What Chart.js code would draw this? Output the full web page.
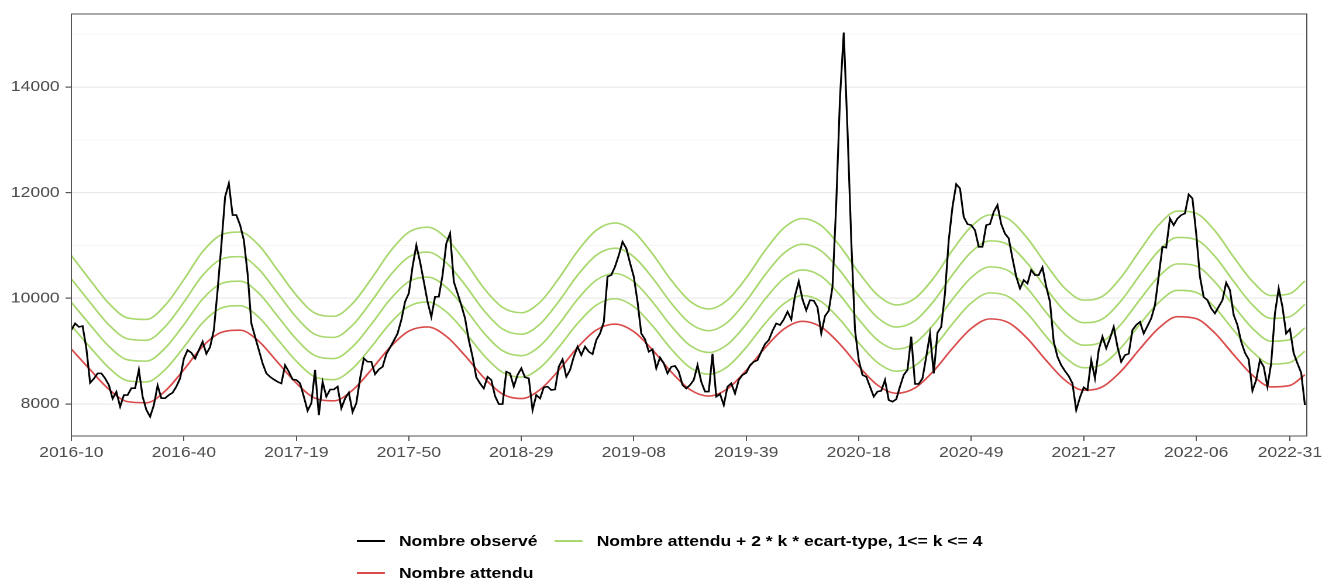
<!DOCTYPE html>
<html lang="fr">
<head>
<meta charset="utf-8">
<title>Nombre observé / attendu</title>
<script src="https://cdn.jsdelivr.net/npm/chart.js@4.4.1/dist/chart.umd.min.js"></script>
<style>
    html, body { margin: 0; padding: 0; background: #fff; overflow: hidden; }
    /* the reference is stretched horizontally, so the whole page is drawn narrower and scaled */
    #wrap {
        position: relative;
        width: 1130px;
        height: 581px;
        transform: scaleX(1.16991);
        transform-origin: 0 0;
    }
    #legend {
        position: absolute;
        left: 0; top: 0;
        font-family: "Liberation Sans", Arial, sans-serif;
        font-weight: bold;
        font-size: 15px;
        color: #000;
    }
    .item { position: absolute; height: 18px; line-height: 18px; white-space: nowrap; }
    .item .key { position: absolute; top: 8px; width: 24px; height: 2px; }
    .item .txt { position: absolute; left: 36px; top: 0; }
</style>
</head>
<body>
<div id="wrap">
    <canvas id="lineChart"></canvas>
    <div id="legend"></div>
</div>
<script>
/* ==============================
   DATA
============================== */

// week index 0 = 2016-10
const xTickIdx = [0, 30, 60, 90, 120, 150, 180, 210, 240, 270, 300, 325];
const xTickLabels = ["2016-10", "2016-40", "2017-19", "2017-50", "2018-29", "2019-08",
                     "2019-39", "2020-18", "2020-49", "2021-27", "2022-06", "2022-31"];

const nombreObserve = [
    9400, 9525, 9460, 9475, 9050, 8400, 8480, 8580, 8580, 8485,
    8360, 8100, 8230, 7950, 8170, 8170, 8300, 8300, 8650, 8140,
    7890, 7760, 7980, 8350, 8110, 8110, 8170, 8215, 8330, 8485,
    8860, 9020, 8970, 8860, 9020, 9180, 8950, 9080, 9400, 10155,
    11005, 11920, 12175, 11575, 11575, 11385, 11100, 10470, 9525, 9270,
    9020, 8770, 8580, 8515, 8465, 8420, 8390, 8735, 8610, 8465,
    8455, 8390, 8140, 7875, 8015, 8645, 7790, 8420, 8140, 8275,
    8275, 8330, 7920, 8105, 8215, 7850, 8015, 8485, 8865, 8800,
    8800, 8565, 8655, 8705, 8945, 9070, 9200, 9335, 9590, 9935,
    10095, 10600, 11005, 10690, 10315, 9935, 9650, 10030, 10030, 10440,
    11040, 11230, 10315, 10095, 9870, 9620, 9210, 8895, 8505, 8390,
    8295, 8515, 8455, 8150, 8000, 8000, 8610, 8580, 8330, 8550,
    8675, 8505, 8485, 7885, 8170, 8105, 8315, 8330, 8265, 8275,
    8705, 8845, 8515, 8645, 8895, 9085, 8925, 9085, 8990, 8945,
    9210, 9335, 9550, 10410, 10440, 10600, 10815, 11070, 10945, 10670,
    10410, 9935, 9335, 9225, 8990, 9035, 8675, 8880, 8770, 8580,
    8705, 8720, 8610, 8360, 8295, 8360, 8455, 8735, 8420, 8235,
    8235, 8950, 8140, 8190, 7980, 8330, 8390, 8200, 8455, 8550,
    8590, 8735, 8800, 8830, 8990, 9135, 9210, 9385, 9525, 9495,
    9600, 9746, 9600, 10050, 10320, 9980, 9775, 9965, 9955, 9830,
    9335, 9665, 9765, 10220, 11795, 13800, 15030, 13180, 11100, 9400,
    8830, 8550, 8515, 8330, 8140, 8235, 8250, 8455, 8075, 8045,
    8090, 8330, 8550, 8645, 9275, 8380, 8380, 8485, 8895, 9325,
    8580, 9350, 9460, 10095, 11100, 11730, 12160, 12080, 11540, 11405,
    11385, 11290, 10975, 10975, 11385, 11405, 11635, 11765, 11405, 11225,
    11135, 10755, 10410, 10185, 10345, 10280, 10535, 10440, 10440, 10585,
    10220, 9935, 9180, 8895, 8735, 8625, 8530, 8390, 7885, 8125,
    8315, 8265, 8830, 8485, 9020, 9275, 9055, 9240, 9460, 9085,
    8800, 8925, 8950, 9400, 9495, 9555, 9335, 9475, 9620, 9870,
    10420, 10975, 10960, 11510, 11385, 11510, 11575, 11605, 11965, 11890,
    11225, 10410, 10025, 9965, 9810, 9715, 9840, 9965, 10295, 10155,
    9685, 9495, 9180, 8970, 8845, 8250, 8455, 8830, 8705, 8330,
    8770, 9715, 10185, 9840, 9335, 9420, 8960, 8770, 8590, 7980
];

// expected values, read every 5 weeks
const attenduIdx = [
    0, 5, 10, 15, 20, 25, 30, 35, 40, 45, 50, 55, 60, 65, 70, 75, 80, 85, 90, 95,
    100, 105, 110, 115, 120, 125, 130, 135, 140, 145, 150, 155, 160, 165, 170, 175,
    180, 185, 190, 195, 200, 205, 210, 215, 220, 225, 230, 235, 240, 245, 250, 255,
    260, 265, 270, 275, 280, 285, 290, 295, 300, 305, 310, 315, 320, 325, 329
];
const nombreAttendu = [
    9040, 8650, 8280, 8045, 8024, 8245, 8650, 9090, 9355, 9397,
    9187, 8790, 8395, 8111, 8061, 8263, 8650, 9075, 9380, 9459,
    9281, 8915, 8499, 8189, 8103, 8272, 8640, 9069, 9400, 9514,
    9371, 9024, 8606, 8273, 8151, 8288, 8636, 9063, 9418, 9566,
    9456, 9132, 8714, 8359, 8203, 8304, 8627, 9054, 9430, 9611,
    9538, 9238, 8824, 8452, 8262, 8326, 8625, 9045, 9435, 9652,
    9615, 9341, 8933, 8545, 8324, 8352, 8554
];
const ecartType = [
    221, 212, 203, 198, 197, 203, 213, 224, 231, 232,
    227, 218, 208, 201, 200, 205, 215, 226, 234, 236,
    232, 223, 212, 205, 203, 207, 217, 228, 236, 239,
    236, 227, 217, 209, 206, 210, 219, 230, 239, 243,
    240, 232, 222, 213, 209, 212, 220, 232, 241, 246,
    245, 237, 227, 217, 213, 214, 222, 233, 244, 250,
    249, 242, 231, 222, 216, 217, 222
];
const kValues = [1, 2, 3, 4];

const yGridValues = [8000, 9000, 10000, 11000, 12000, 13000, 14000, 15000];

const seriesNames = ["Nombre observé", "Nombre attendu + 2 * k * ecart-type, 1<= k <= 4", "Nombre attendu"];
const seriesColors = ["#000000", "#a8d86e", "#da4c4c"];

/* ==============================
   DATASETS
============================== */

const FONT = "'Liberation Sans', Arial, sans-serif";

const datasets = [];

datasets.push({
    label: seriesNames[0],
    data: nombreObserve.map((v, i) => ({ x: i, y: v })),
    borderColor: seriesColors[0],
    borderWidth: 1.6,
    pointRadius: 0,
    tension: 0,
    order: 0
});

datasets.push({
    label: seriesNames[2],
    data: nombreAttendu.map((v, j) => ({ x: attenduIdx[j], y: v })),
    borderColor: seriesColors[2],
    borderWidth: 1.6,
    pointRadius: 0,
    cubicInterpolationMode: "monotone",
    order: 1
});

kValues.forEach(k => {
    datasets.push({
        label: seriesNames[1] + " (k=" + k + ")",
        data: nombreAttendu.map((v, j) => ({ x: attenduIdx[j], y: v + 2 * k * ecartType[j] })),
        borderColor: seriesColors[1],
        borderWidth: 1.6,
        pointRadius: 0,
        cubicInterpolationMode: "monotone",
        order: 2
    });
});

/* ==============================
   PANEL BORDER (theme_bw look)
============================== */

const panelBorder = {
    id: "panelBorder",
    afterDraw(chart) {
        const { ctx, chartArea: a } = chart;
        ctx.save();
        ctx.strokeStyle = "#555";
        ctx.lineWidth = 1;
        ctx.strokeRect(a.left, a.top, a.right - a.left, a.bottom - a.top);
        ctx.restore();
    }
};

/* ==============================
   CHART
============================== */

const chart = new Chart(document.getElementById("lineChart"), {
    type: "line",
    data: { datasets: datasets },
    options: {
        responsive: true,
        maintainAspectRatio: false,
        devicePixelRatio: 2,
        animation: false,
        layout: { padding: { left: 0, right: 13, top: 14, bottom: 105 } },
        plugins: {
            legend: { display: false },
            tooltip: { enabled: false }
        },
        scales: {
            x: {
                type: "linear",
                min: 0,
                max: 329.5,
                afterBuildTicks: s => { s.ticks = xTickIdx.map(v => ({ value: v })); },
                afterFit: s => {
                    s.height = 40;
                    s.paddingLeft = 0;   // labels may overflow, as in ggplot
                    s.paddingRight = 0;
                },
                ticks: {
                    autoSkip: false,
                    maxRotation: 0,
                    padding: 3,
                    color: "#4d4d4d",
                    font: { family: FONT, size: 15 },
                    callback: v => xTickLabels[xTickIdx.indexOf(v)]
                },
                grid: { drawOnChartArea: false, drawTicks: true, tickLength: 5, color: "#555" },
                border: { display: true, color: "#555" }
            },
            y: {
                min: 7395,
                max: 15380,
                afterBuildTicks: s => { s.ticks = yGridValues.map(v => ({ value: v })); },
                afterFit: s => {
                    s.width = 61;
                    s.paddingTop = 0;
                    s.paddingBottom = 0;
                },
                ticks: {
                    padding: 5,
                    color: "#4d4d4d",
                    font: { family: FONT, size: 15 },
                    callback: v => (v % 2000 === 0 ? String(v) : "")
                },
                grid: {
                    color: c => (c.tick && c.tick.value % 2000 === 0 ? "#ebebeb" : "#f3f3f3"),
                    lineWidth: c => (c.tick && c.tick.value % 2000 === 0 ? 1.2 : 0.8),
                    tickColor: c => (c.tick && c.tick.value % 2000 === 0 ? "#555" : "rgba(0,0,0,0)"),
                    tickLength: 5
                },
                border: { display: true, color: "#555" }
            }
        }
    },
    plugins: [panelBorder]
});

/* ==============================
   LEGEND (two columns, like ggplot)
============================== */

const legendPos = [
    { left: 305, top: 532 },   // Nombre observé
    { left: 474, top: 532 },   // attendu + 2k sd
    { left: 305, top: 564 }    // Nombre attendu
];

const legend = document.getElementById("legend");
seriesNames.forEach((name, i) => {
    const item = document.createElement("div");
    item.className = "item";
    item.style.left = legendPos[i].left + "px";
    item.style.top = legendPos[i].top + "px";
    item.innerHTML = '<span class="key" style="background:' + seriesColors[i] + '"></span>' +
                     '<span class="txt">' + name.replace(/</g, "&lt;") + "</span>";
    legend.appendChild(item);
});
</script>
</body>
</html>
